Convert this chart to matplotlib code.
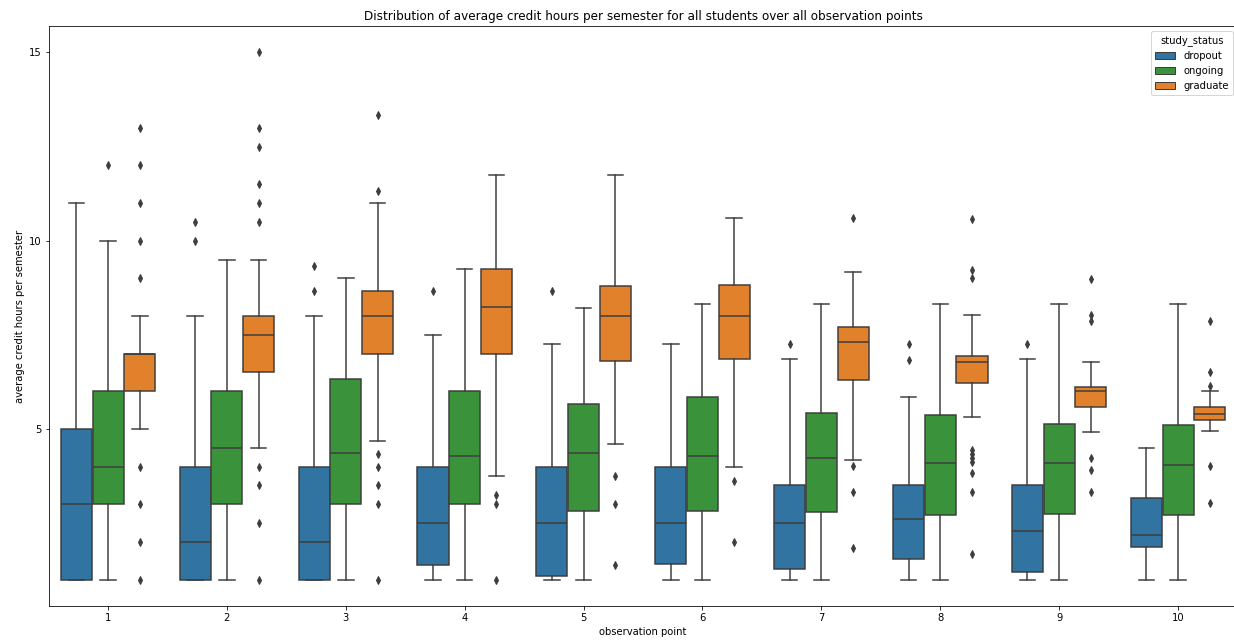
import matplotlib
matplotlib.use("Agg")
import matplotlib.pyplot as plt
from matplotlib.patches import Patch

observation_points = ["1", "2", "3", "4", "5", "6", "7", "8", "9", "10"]
statuses = ["dropout", "ongoing", "graduate"]

# dropout
dropout_whislo = [1, 1, 1, 1, 1, 1, 1, 1, 1, 1]
dropout_q1 = [1, 1, 1, 1.38, 1.1, 1.41, 1.28, 1.56, 1.19, 1.87]
dropout_med = [3, 2, 2, 2.5, 2.5, 2.5, 2.5, 2.62, 2.28, 2.18]
dropout_q3 = [5, 4, 4, 4, 4, 4, 3.5, 3.5, 3.5, 3.17]
dropout_whishi = [11, 8, 8, 7.5, 7.25, 7.25, 6.85, 5.86, 6.85, 4.5]
dropout_fliers = [[], [10.5, 10], [9.33, 8.67], [8.67], [8.67], [], [7.25],
                  [7.25, 6.84], [7.25], []]

# ongoing
ongoing_whislo = [1, 1, 1, 1, 1, 1, 1, 1, 1, 1]
ongoing_q1 = [3, 3, 3, 3, 2.82, 2.82, 2.8, 2.71, 2.73, 2.71]
ongoing_med = [4, 4.5, 4.37, 4.29, 4.35, 4.29, 4.23, 4.09, 4.09, 4.04]
ongoing_q3 = [6, 6, 6.34, 6, 5.66, 5.86, 5.43, 5.38, 5.12, 5.1]
ongoing_whishi = [10, 9.5, 9, 9.25, 8.2, 8.33, 8.33, 8.33, 8.33, 8.33]
ongoing_fliers = [[12], [], [], [], [], [], [], [], [], []]

# graduate
graduate_whislo = [5, 4.5, 4.67, 3.75, 4.6, 4.0, 4.17, 5.31, 4.91, 4.94]
graduate_q1 = [6, 6.5, 7, 7, 6.8, 6.85, 6.3, 6.21, 5.58, 5.25]
graduate_med = [7, 7.5, 8, 8.25, 8, 8, 7.31, 6.77, 6.01, 5.41]
graduate_q3 = [7, 8, 8.67, 9.25, 8.8, 8.83, 7.72, 6.93, 6.12, 5.58]
graduate_whishi = [8, 9.5, 11, 11.75, 11.75, 10.6, 9.17, 8.02, 6.77, 6.0]
graduate_fliers = [
    [13, 12, 11, 10, 9, 4, 3, 2, 1],
    [15, 13, 12.5, 11.5, 11, 10.5, 4, 3.5, 2.5, 1],
    [13.33, 11.33, 4.33, 4, 3.5, 3, 1],
    [3.25, 3, 1],
    [3.75, 3, 1.4],
    [3.62, 2.0],
    [10.6, 4.02, 3.34, 1.83],
    [10.58, 9.21, 9.0, 4.43, 4.34, 4.23, 4.12, 3.84, 3.32, 1.68],
    [8.99, 8.02, 7.86, 4.24, 3.91, 3.34],
    [7.86, 6.51, 6.13, 4.02, 3.03],
]

colors = ["#3274a1", "#3a923a", "#e1812c"]
gray = "#3d3d3d"

series = [
    (dropout_whislo, dropout_q1, dropout_med, dropout_q3, dropout_whishi, dropout_fliers),
    (ongoing_whislo, ongoing_q1, ongoing_med, ongoing_q3, ongoing_whishi, ongoing_fliers),
    (graduate_whislo, graduate_q1, graduate_med, graduate_q3, graduate_whishi, graduate_fliers),
]

fig = plt.figure(figsize=(1234 / 72, 641 / 72), dpi=72)
ax = fig.add_axes([48.6 / 1234, 1 - 606 / 641, (1237.5 - 48.6) / 1234, (606 - 26) / 641])

each = 0.8 / 3
for h, (wlo, q1, med, q3, whi, fl) in enumerate(series):
    stats = []
    for i in range(len(observation_points)):
        stats.append(dict(whislo=wlo[i], q1=q1[i], med=med[i], q3=q3[i],
                          whishi=whi[i], fliers=fl[i]))
    positions = [i - 0.4 + each * (h + 0.5) for i in range(len(observation_points))]
    ax.bxp(stats, positions=positions, widths=each * 0.98, patch_artist=True,
           manage_ticks=False,
           boxprops=dict(facecolor=colors[h], edgecolor=gray, linewidth=1.5),
           medianprops=dict(color=gray, linewidth=1.5),
           whiskerprops=dict(color=gray, linewidth=1.5),
           capprops=dict(color=gray, linewidth=1.5),
           flierprops=dict(marker="d", markersize=5, markerfacecolor=gray,
                           markeredgecolor=gray, linestyle="none"))

ax.set_xlim(-0.5, len(observation_points) - 0.5)
ax.set_xticks(range(len(observation_points)))
ax.set_xticklabels(observation_points)
ax.set_yticks([5, 10, 15])
ax.set_xlabel("observation point")
ax.set_ylabel("average credit hours per semester")
ax.set_title("Distribution of average credit hours per semester for all students over all observation points")

handles = [Patch(facecolor=c, edgecolor=gray, label=s) for c, s in zip(colors, statuses)]
ax.legend(handles=handles, title="study_status", loc="upper right")

fig.savefig("out.png", dpi=72)
